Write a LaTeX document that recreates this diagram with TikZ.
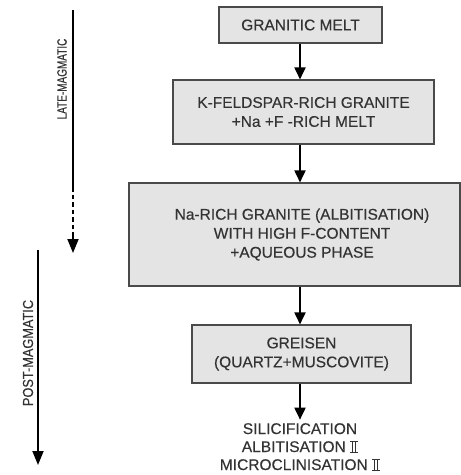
\documentclass[tikz,border=0pt]{standalone}
\usepackage{fontspec}
\setmainfont[FakeBold=0.35]{Liberation Sans}
\usetikzlibrary{arrows.meta,calc}
\definecolor{boxfill}{HTML}{E4E4E4}
\definecolor{boxline}{HTML}{4A4A4A}
\definecolor{txt}{HTML}{333333}
\newcommand\romtwo{\leavevmode\rlap{\rule[-0.05em]{0.52em}{0.08em}}\rlap{\rule[0.65em]{0.52em}{0.08em}}\hbox to 0.52em{\hss\rule{0.09em}{0.7em}\hskip0.12em\rule{0.09em}{0.7em}\hss}}
\begin{document}
\begin{tikzpicture}[x=1pt,y=-1pt,
  box/.style={draw=boxline,fill=boxfill,line width=1.1pt,inner sep=0pt,
    font=\fontsize{15.5}{19}\selectfont,text=txt,align=center},
  arr/.style={line width=1.8pt,-{Triangle[width=11pt,length=12pt]}},
  side/.style={text=txt,rotate=90,inner sep=0pt}]
\useasboundingbox (0,0) rectangle (461,475);
\node[box,minimum width=163,minimum height=36] (b1) at (300.5,25) {GRANITIC MELT};
\node[box,minimum width=261,minimum height=64] (b2) at (303.5,112) {K-FELDSPAR-RICH GRANITE\\+Na +F -RICH MELT};
\node[box,minimum width=331,minimum height=103] (b3) at (294.5,234.5) {};
\node[font=\fontsize{15.5}{19}\selectfont,text=txt,align=center] (b3t) at (302,234.5)
  {Na-RICH GRANITE (ALBITISATION)\\WITH HIGH F-CONTENT\\+AQUEOUS PHASE};
\node[box,minimum width=219,minimum height=58] (b4) at (301.5,354) {GREISEN\\(QUARTZ+MUSCOVITE)};
\node[font=\fontsize{15.5}{18}\selectfont,text=txt,align=center] (b5) at (300,447)
  {SILICIFICATION\\ALBITISATION \romtwo\\MICROCLINISATION \romtwo};
\coordinate (ax) at (300,0);
\draw[arr] (b1.south -| ax) -- (b2.north -| ax);
\draw[arr] (b2.south -| ax) -- (b3.north -| ax);
\draw[arr] (b3.south -| ax) -- (b4.north -| ax);
\draw[arr] (b4.south -| ax) -- (b5.north -| ax);
% side arrows
\coordinate (l1a) at (73,10);
\coordinate (l1b) at (73,187);
\coordinate (l1c) at (73,253);
\draw[line width=1.8pt] (l1a) -- (l1b);
\draw[line width=1.8pt,dash pattern=on 4.5pt off 3pt] (l1b) -- ++(0,52);
\draw[line width=1.8pt,-{Triangle[width=11pt,length=14pt]}] ($(l1c)+(0,-16)$) -- (l1c);
\node[side] (lm) at (62,79) {\scalebox{0.74}[1]{\fontsize{13.5}{14}\selectfont LATE-MAGMATIC}};
\coordinate (l2a) at (38,250);
\coordinate (l2b) at (38,465);
\draw[line width=1.8pt,-{Triangle[width=11pt,length=14pt]}] (l2a) -- (l2b);
\node[side] (pm) at (28,353) {\scalebox{0.88}[1]{\fontsize{14.5}{15}\selectfont POST-MAGMATIC}};
\end{tikzpicture}
\end{document}
